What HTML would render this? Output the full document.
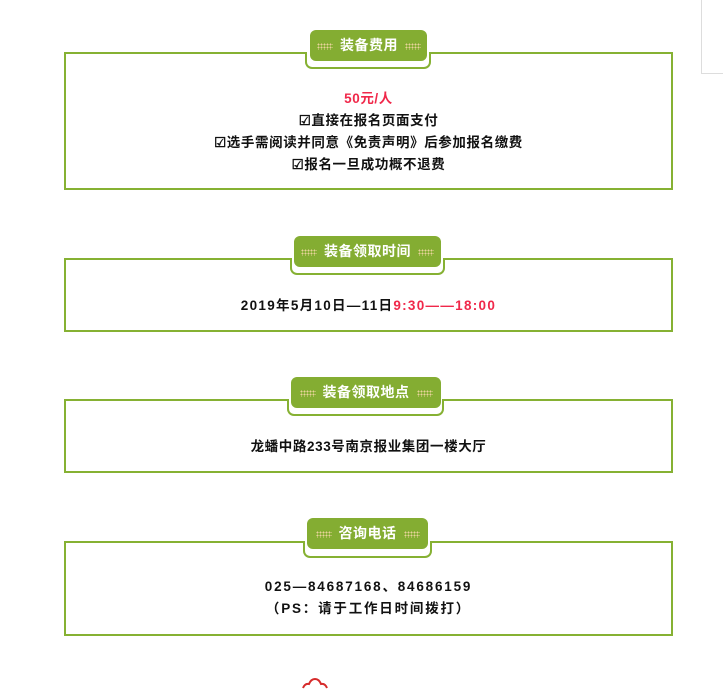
<!DOCTYPE html>
<html><head><meta charset="utf-8"><style>
body{margin:0;width:723px;height:687px;background:#fff;position:relative;overflow:hidden;font-family:"Liberation Sans","Noto Sans CJK SC",sans-serif;}
.box{position:absolute;left:64px;width:605px;border:2px solid #86b133;}
.br{position:absolute;background:#fff;border:2px solid #86b133;border-top:none;border-radius:0 0 7px 7px;}
.pill{position:absolute;background:#84ad32;border-radius:6px;color:#fff;font-weight:bold;font-size:14px;text-align:center;line-height:31px;height:31px;letter-spacing:0.5px;white-space:nowrap}
.dots{display:inline-block;width:16px;height:7px;vertical-align:middle;margin:0 7px;background-image:radial-gradient(circle,#e8d49a 0.8px,transparent 1px);background-size:3px 3px;}
.t{position:absolute;left:64px;width:609px;text-align:center;font-weight:bold;font-size:13.5px;color:#111;line-height:22px;letter-spacing:0.6px}
.r{color:#f0284a}
</style></head><body>
<div style="position:absolute;left:701px;top:0;width:22px;height:73px;border-left:1px solid #ddd;border-bottom:1px solid #ddd"></div>

<div class="box" style="top:52px;height:134px"></div>
<div class="br" style="left:305px;top:52px;width:122px;height:15px"></div>
<div class="pill" style="left:310px;top:30px;width:117px"><span class="dots"></span>装备费用<span class="dots"></span></div>
<div class="t" style="top:88px"><span class="r">50元/人</span><br>☑直接在报名页面支付<br>☑选手需阅读并同意《免责声明》后参加报名缴费<br>☑报名一旦成功概不退费</div>

<div class="box" style="top:258px;height:70px"></div>
<div class="br" style="left:290px;top:258px;width:151px;height:15px"></div>
<div class="pill" style="left:294px;top:236px;width:147px"><span class="dots"></span>装备领取时间<span class="dots"></span></div>
<div class="t" style="top:295px;letter-spacing:1.3px">2019年5月10日—11日<span class="r">9:30——18:00</span></div>

<div class="box" style="top:399px;height:70px"></div>
<div class="br" style="left:287px;top:399px;width:153px;height:15px"></div>
<div class="pill" style="left:291px;top:377px;width:150px"><span class="dots"></span>装备领取地点<span class="dots"></span></div>
<div class="t" style="top:436px">龙蟠中路233号南京报业集团一楼大厅</div>

<div class="box" style="top:541px;height:91px"></div>
<div class="br" style="left:303px;top:541px;width:125px;height:15px"></div>
<div class="pill" style="left:307px;top:518px;width:121px"><span class="dots"></span>咨询电话<span class="dots"></span></div>
<div class="t" style="top:576px;letter-spacing:1.8px">025—84687168、84686159<br>（PS：请于工作日时间拨打）</div>

<svg style="position:absolute;left:300px;top:678px" width="30" height="12"><path d="M3 10 Q5 5 9 6 Q11 1 15 1 Q19 1 21 6 Q25 5 27 10" fill="none" stroke="#d62b2b" stroke-width="2"/></svg>
</body></html>
